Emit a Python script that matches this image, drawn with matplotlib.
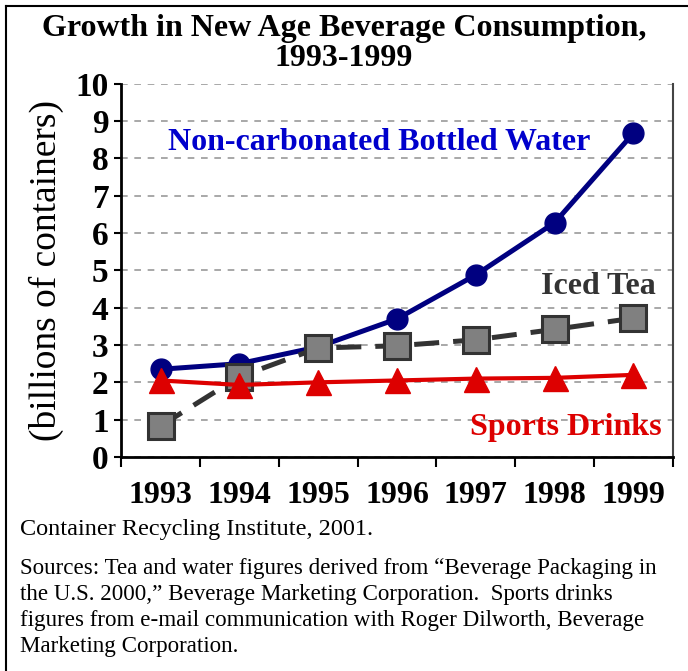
import matplotlib
matplotlib.use("Agg")
import matplotlib.pyplot as plt
from matplotlib.lines import Line2D

years = ["1993", "1994", "1995", "1996", "1997", "1998", "1999"]
water = [2.35, 2.5, 2.95, 3.7, 4.88, 6.28, 8.68]
iced_tea = [0.83, 2.15, 2.92, 2.98, 3.14, 3.42, 3.72]
sports = [2.05, 1.93, 2.0, 2.05, 2.1, 2.12, 2.2]
y_ticks = list(range(0, 11))

plt.rcParams['font.family'] = ['Liberation Serif', 'DejaVu Serif']

fig = plt.figure(figsize=(6.88, 6.71), dpi=100)
ax = fig.add_axes([0.176, 0.319, 0.802, 0.556])

x = list(range(len(years)))

ax.plot(x, water, color="#000080", lw=3.6, marker="o", markersize=15,
        markerfacecolor="#000080", markeredgecolor="#000080", zorder=3)
ax.plot(x, iced_tea, color="#333333", lw=3.6, dashes=(5, 2.8),
        marker="s", markersize=19, markerfacecolor="#808080",
        markeredgecolor="#333333", markeredgewidth=2.2, zorder=4)
ax.plot(x, sports, color="#DD0000", lw=3.0, marker="^", markersize=18,
        markerfacecolor="#DD0000", markeredgecolor="#DD0000", zorder=5)

ax.set_xlim(-0.5, len(years) - 0.5)
ax.set_ylim(0, 10)
ax.set_yticks(y_ticks)
ax.set_yticklabels([str(t) for t in y_ticks], fontsize=24, fontweight="bold")
ax.yaxis.grid(True, color="#999999", ls=(0, (4, 4)), lw=1.2)
ax.set_axisbelow(True)

# category boundaries as ticks, labels in the centre
ax.set_xticks([i - 0.5 for i in range(len(years) + 1)])
ax.set_xticklabels([])
ax.set_xticks(x, minor=True)
ax.set_xticklabels(years, minor=True, fontsize=23, fontweight="bold")
ax.tick_params(axis="x", which="major", length=7, width=1.5, direction="out")
ax.tick_params(axis="x", which="minor", length=0, pad=17)
ax.tick_params(axis="y", length=5, width=1.5, pad=4)

for s in ["left", "bottom"]:
    ax.spines[s].set_linewidth(2)
    ax.spines[s].set_color("black")
ax.spines["right"].set_color("#444444")
ax.spines["right"].set_linewidth(1.5)
ax.spines["top"].set_visible(False)

ax.set_ylabel("(billions of containers)", fontsize=27, labelpad=8)

ax.text(2.77, 8.42, "Non-carbonated Bottled Water", color="#0000CC",
        fontsize=23, fontweight="bold", ha="center", va="center")
ax.text(5.56, 4.58, "Iced Tea", color="#333333",
        fontsize=23, fontweight="bold", ha="center", va="center")
ax.text(5.14, 0.8, "Sports Drinks", color="#DD0000",
        fontsize=23, fontweight="bold", ha="center", va="center")

fig.text(0.5, 0.957, "Growth in New Age Beverage Consumption,", ha="center",
         va="center", fontsize=23, fontweight="bold")
fig.text(0.5, 0.913, "1993-1999", ha="center", va="center",
         fontsize=23, fontweight="bold")

fig.text(0.029, 0.211, "Container Recycling Institute, 2001.",
         fontsize=17.5, va="center", ha="left")
sources = ("Sources: Tea and water figures derived from \u201cBeverage Packaging in\n"
           "the U.S. 2000,\u201d Beverage Marketing Corporation.  Sports drinks\n"
           "figures from e-mail communication with Roger Dilworth, Beverage\n"
           "Marketing Corporation.")
fig.text(0.029, 0.169, sources, fontsize=16.6, va="top", ha="left",
         linespacing=1.32)

# frame lines at top and left
fig.add_artist(Line2D([0.009, 1.0], [0.991, 0.991], color="black", lw=1.5,
                      transform=fig.transFigure))
fig.add_artist(Line2D([0.009, 0.009], [0.0, 0.991], color="black", lw=1.5,
                      transform=fig.transFigure))

fig.savefig("out.png", dpi=100)
